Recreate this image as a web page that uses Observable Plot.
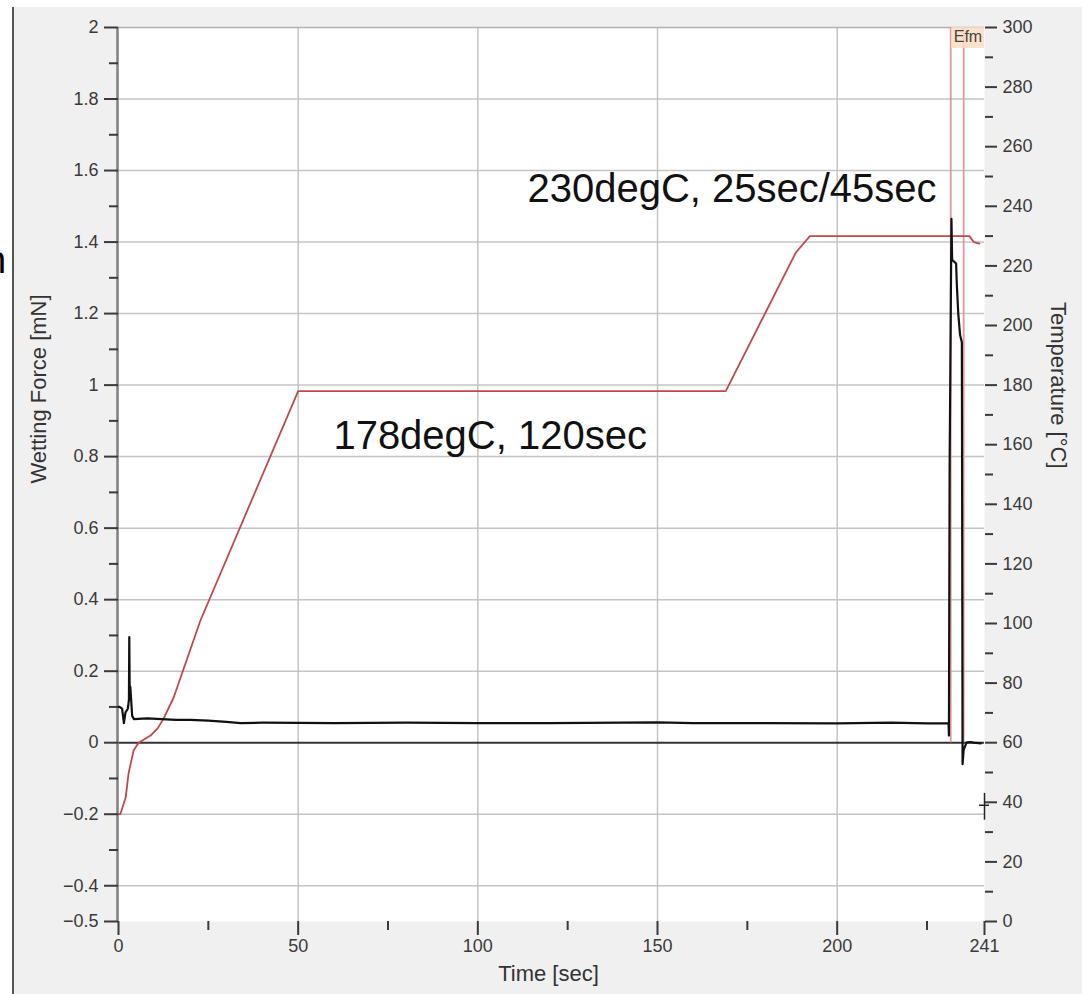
<!DOCTYPE html>
<html><head><meta charset="utf-8">
<script src="https://cdn.jsdelivr.net/npm/d3@7"></script>
<script src="https://cdn.jsdelivr.net/npm/@observablehq/plot@0.6"></script>
<style>
html,body{margin:0;padding:0;background:#fff;}
#wrap{position:relative;width:1082px;height:994px;overflow:hidden;}
#bg{position:absolute;left:12px;top:7px;right:0;bottom:0;background:#f0f0f0;border-left:2px solid #555;}
#frag{position:absolute;left:-15px;top:241px;font:38px 'Liberation Sans',Arial,sans-serif;line-height:38px;color:#000;}
#chart{position:absolute;left:0;top:0;}
</style></head><body>
<div id="wrap"><div id="bg"></div><div id="frag">n</div><div id="chart"></div></div>
<script>
// ---- data ----
// Temperature profile (time in sec, temperature in °C)
const tempTime = [0, 0.5, 2.0, 2.8, 4.2, 5.6, 8.9, 10.9, 12.5, 15.3, 22.8, 50, 100, 169, 188.5, 192.4, 200, 236.8, 238, 239.6];
const tempC    = [36, 36, 41.6, 49.7, 57.4, 60, 62.4, 64.8, 68, 75, 101, 178, 178, 178, 224.5, 230, 230, 230, 228, 227.5];
// Wetting force (time in sec, force in mN)
const forceTime = [0, 0.3, 1.0, 1.5, 1.95, 2.6, 2.9, 3.0, 3.1, 3.3, 3.8, 4.3, 8, 12, 16, 20, 25, 30, 34, 40, 60, 80, 100, 120, 140, 150, 160, 180, 200, 215, 225, 231.0, 231.1, 231.3, 231.8, 232.0, 233.1, 233.3, 233.7, 234.2, 234.7, 234.9, 235.2, 236, 237, 238, 240];
const forceMN   = [0.10, 0.10, 0.095, 0.055, 0.085, 0.095, 0.12, 0.295, 0.16, 0.155, 0.075, 0.066, 0.068, 0.066, 0.064, 0.064, 0.062, 0.058, 0.055, 0.056, 0.055, 0.056, 0.055, 0.055, 0.056, 0.057, 0.055, 0.055, 0.054, 0.056, 0.054, 0.055, 0.02, 0.78, 1.465, 1.35, 1.34, 1.28, 1.20, 1.14, 1.12, -0.06, -0.02, 0.0, 0.002, 0.0, -0.002];
// cursor lines and their label
const cursorTimes = [231.6, 235.2];
const cursorLabel = "Efm";
// temperature start marker near the right axis
const markerTime = 241;
const markerTemp = [34, 39, 43];
// annotations
const noteText = ["230degC, 25sec/45sec", "178degC, 120sec"];
const noteTime = [113.8, 59.8];
const noteForce = [1.549, 0.858];
// ticks
const xMajor = [0, 50, 100, 150, 200, 241];
const xMinor = [25, 75, 125, 175, 225];
const xGrid = [50, 100, 150, 200];
const yMajor = [2, 1.8, 1.6, 1.4, 1.2, 1, 0.8, 0.6, 0.4, 0.2, 0, -0.2, -0.4, -0.5];
const yMinor = [1.9, 1.7, 1.5, 1.3, 1.1, 0.9, 0.7, 0.5, 0.3, 0.1, -0.1, -0.3];
const yGrid = [1.8, 1.6, 1.4, 1.2, 1, 0.8, 0.6, 0.4, 0.2, -0.2, -0.4];
const tMajor = [0, 20, 40, 60, 80, 100, 120, 140, 160, 180, 200, 220, 240, 260, 280, 300];
const tMinor = [10, 30, 50, 70, 90, 110, 130, 150, 170, 190, 210, 230, 250, 270, 290];
const xTitle = "Time [sec]";
const yTitle = "Wetting Force [mN]";
const y2Title = "Temperature [°C]";

// temperature axis maps 0..300 °C onto -0.5..2 mN
const toF = c => c / 120 - 0.5;
const fromF = f => Math.round((f + 0.5) * 120);

const tempData = tempTime.map((t, i) => ({t, f: toF(tempC[i])}));
const forceData = forceTime.map((t, i) => ({t, f: forceMN[i]}));
const notes = noteText.map((text, i) => ({text, t: noteTime[i], f: noteForce[i]}));

const sans = "'Liberation Sans',Arial,sans-serif";
const fmt = d => String(d).replace("-", "\u2212");
const blank = () => "";

const chart = Plot.plot({
  width: 1082, height: 994,
  marginLeft: 118, marginRight: 98, marginTop: 27, marginBottom: 73,
  x: {domain: [0, 241]},
  y: {domain: [-0.5, 2]},
  style: {fontFamily: sans, fontSize: "18px", color: "#3a3a3a", background: "transparent", overflow: "visible"},
  marks: [
    Plot.frame({fill: "white", stroke: "none"}),
    Plot.gridX(xGrid, {stroke: "#c4c4c4", strokeOpacity: 1, strokeWidth: 1.5}),
    Plot.gridY(yGrid, {stroke: "#c4c4c4", strokeOpacity: 1, strokeWidth: 1.5}),
    Plot.ruleY([2], {stroke: "#b0b0b0", strokeWidth: 1.5}),
    Plot.ruleY([0], {stroke: "#333", strokeWidth: 2}),
    Plot.ruleX([0], {stroke: "#808080", strokeWidth: 2.5, dx: -1}),
    Plot.ruleX(cursorTimes, {y1: 0, y2: 2, stroke: "#dc9a9a", strokeWidth: 1.8}),
    Plot.rect([cursorLabel], {x1: cursorTimes[0], x2: 241, y1: 2, y2: 2, insetBottom: -21, insetLeft: 1, fill: "#fbdcc4", fillOpacity: 0.85}),
    Plot.text([cursorLabel], {x: cursorTimes[0], y: 2, text: d => d, textAnchor: "start", lineAnchor: "top", dx: 3, dy: 3, fontSize: 16, fontFamily: sans, fill: "#444"}),
    Plot.line(tempData, {x: "t", y: "f", stroke: "#bd4a48", strokeWidth: 1.8}),
    Plot.line(forceData, {x: "t", y: "f", stroke: "#111", strokeWidth: 2.2}),
    Plot.ruleX([markerTime], {y1: toF(markerTemp[0]), y2: toF(markerTemp[2]), stroke: "#222", strokeWidth: 1.5}),
    Plot.ruleY([toF(markerTemp[1])], {x1: markerTime - 1.4, x2: markerTime + 1.4, stroke: "#222", strokeWidth: 1.5}),
    Plot.text(notes, {x: "t", y: "f", text: "text", textAnchor: "start", lineAnchor: "middle", fontSize: 40, fontFamily: sans, fill: "#111"}),
    Plot.axisY(yMajor, {anchor: "left", tickSize: 14, tickPadding: 6, tickFormat: fmt, label: null, strokeWidth: 2}),
    Plot.axisY(yMinor, {anchor: "left", tickSize: 9, tickFormat: blank, label: null, strokeWidth: 2}),
    Plot.axisY(tMajor.map(toF), {anchor: "right", tickSize: 12, tickPadding: 6, tickFormat: fromF, label: null, strokeWidth: 2}),
    Plot.axisY(tMinor.map(toF), {anchor: "right", tickSize: 8, tickFormat: blank, label: null, strokeWidth: 2}),
    Plot.axisX(xMajor, {anchor: "bottom", tickSize: 14, tickPadding: 4, label: null, strokeWidth: 2}),
    Plot.axisX(xMinor, {anchor: "bottom", tickSize: 9, tickFormat: blank, label: null, strokeWidth: 2}),
    Plot.text([xTitle], {frameAnchor: "bottom", text: d => d, dy: 59, dx: -3, fontSize: 22, fontFamily: sans, fill: "#333"}),
    Plot.text([yTitle], {frameAnchor: "left", text: d => d, dx: -80, dy: 9, rotate: -90, fontSize: 22, fontFamily: sans, fill: "#333"}),
    Plot.text([y2Title], {frameAnchor: "right", text: d => d, dx: 74, dy: -6, rotate: 90, fontSize: 22, fontFamily: sans, fill: "#333"})
  ]
});
document.getElementById("chart").append(chart);
</script>
</body></html>
